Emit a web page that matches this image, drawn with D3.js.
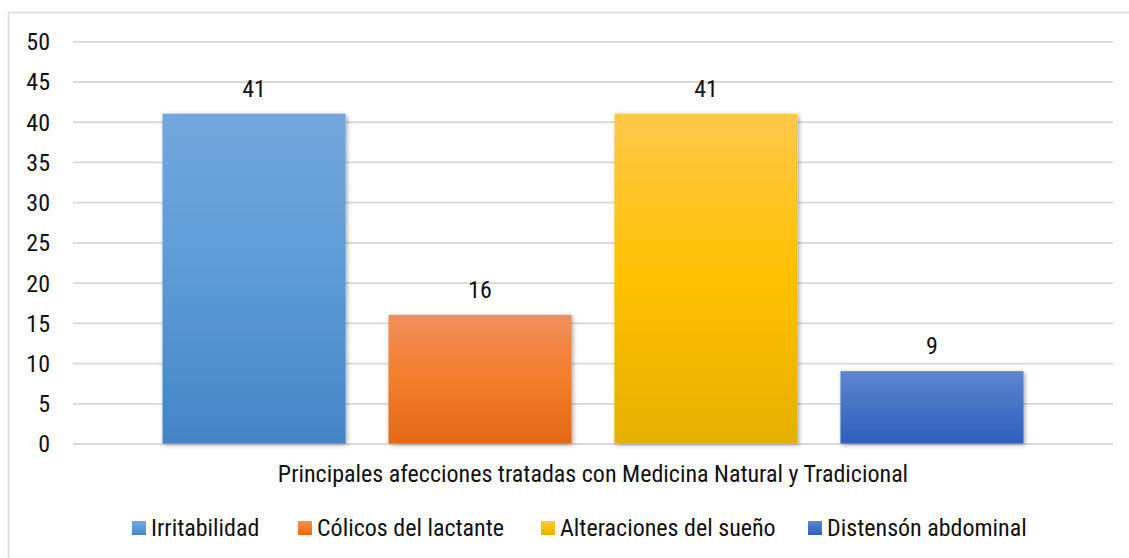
<!DOCTYPE html>
<html><head><meta charset="utf-8">
<script src="https://cdn.jsdelivr.net/npm/d3@7"></script>
<style>
html,body{margin:0;padding:0;background:#fff;}
svg text{font-family:"Roboto Condensed","Roboto",sans-serif;font-stretch:condensed;fill:#111;}
</style></head>
<body><svg id="c" width="1129" height="558"></svg>
<script>
const category = ["Principales afecciones tratadas con Medicina Natural y Tradicional"];
const series = ["Irritabilidad","Cólicos del lactante","Alteraciones del sueño","Distensón abdominal"];
const values = [41,16,41,9];
const yTicks = [0,5,10,15,20,25,30,35,40,45,50];
const colors = [
  ["#72a7dd","#5b9bd5","#4485c6"],
  ["#f18f5a","#f47d2a","#e36a16"],
  ["#ffc94a","#ffc000","#e5b000"],
  ["#5f86d2","#4472c4","#2f5fbd"]
];

const svg = d3.select("#c");
const defs = svg.append("defs");
colors.forEach((c,i)=>{
  const g = defs.append("linearGradient").attr("id","g"+i).attr("x1",0).attr("y1",0).attr("x2",0).attr("y2",1);
  g.append("stop").attr("offset","0%").attr("stop-color",c[0]);
  g.append("stop").attr("offset","50%").attr("stop-color",c[1]);
  g.append("stop").attr("offset","100%").attr("stop-color",c[2]);
});
const f = defs.append("filter").attr("id","sh").attr("x","-10%").attr("y","-10%").attr("width","130%").attr("height","130%");
f.append("feDropShadow").attr("dx",1.5).attr("dy",1.5).attr("stdDeviation",2).attr("flood-color","#000").attr("flood-opacity",0.35);

// outer border
svg.append("rect").attr("x",8.5).attr("y",12.5).attr("width",1140).attr("height",560)
  .attr("fill","none").attr("stroke","#d9d9d9").attr("stroke-width",1.5);

const left=73, right=1113;
const y = d3.scaleLinear().domain([0,50]).range([443.5,41.3]);
const x0 = d3.scaleBand().domain(category).range([left,right]).paddingInner(0).paddingOuter(0);
const inner = d3.scaleBand().domain(series).range([89.5, x0.bandwidth()-89.5]).paddingInner(0.19).paddingOuter(0);

// gridlines
const grid = svg.append("g").attr("transform",`translate(${left},0)`)
  .call(d3.axisLeft(y).tickValues(yTicks).tickSize(-(right-left)).tickFormat(""));
grid.select(".domain").remove();
grid.selectAll("line").attr("stroke","#d9d9d9").attr("stroke-width",1.8);

// y labels
const ya = svg.append("g").attr("transform",`translate(${left},0)`)
  .call(d3.axisLeft(y).tickValues(yTicks).tickSize(0).tickPadding(23));
ya.select(".domain").remove();
ya.selectAll("text").attr("font-size",24).attr("fill","#111").attr("dy","0.35em");

// bars
const gb = svg.append("g").attr("transform",`translate(${x0(category[0])},0)`);
gb.selectAll("rect").data(values).join("rect")
  .attr("x",(d,i)=>inner(series[i])).attr("width",inner.bandwidth())
  .attr("y",d=>y(d)).attr("height",d=>y(0)-y(d))
  .attr("fill",(d,i)=>`url(#g${i})`).attr("filter","url(#sh)");
gb.selectAll("text").data(values).join("text")
  .attr("x",(d,i)=>inner(series[i])+inner.bandwidth()/2)
  .attr("y",d=>y(d)-17).attr("text-anchor","middle").attr("font-size",24)
  .text(d=>d);

// x axis title
svg.append("text").attr("x",x0(category[0])+x0.bandwidth()/2).attr("y",482)
  .attr("text-anchor","middle").attr("font-size",24).text(category[0]);

// legend
const legX = [132,298,541,808];
const lg = svg.append("g");
series.forEach((s,i)=>{
  lg.append("rect").attr("x",legX[i]).attr("y",521).attr("width",14).attr("height",14).attr("fill",`url(#g${i})`);
  lg.append("text").attr("x",legX[i]+19).attr("y",536).attr("font-size",24).text(s);
});
</script></body></html>
